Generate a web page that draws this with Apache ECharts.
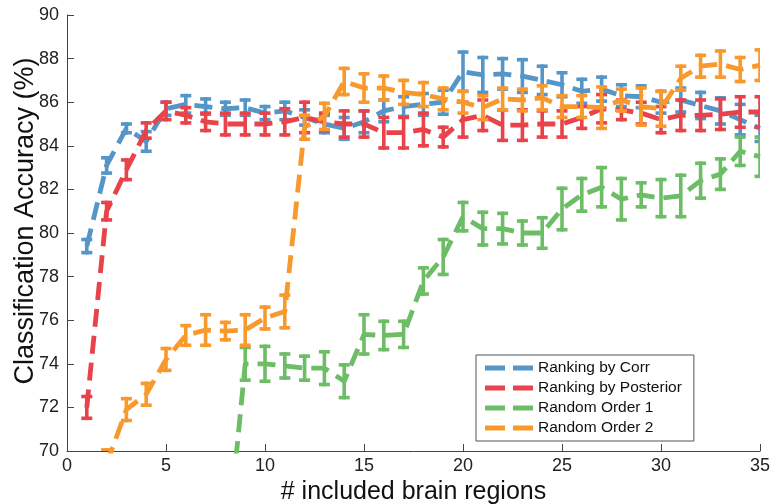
<!DOCTYPE html>
<html>
<head>
<meta charset="utf-8">
<script src="https://cdn.jsdelivr.net/npm/echarts@6/dist/echarts.min.js"></script>
<style>
html,body{margin:0;padding:0;background:#fff;}
#chart{width:770px;height:504px;}
</style>
</head>
<body>
<div id="chart"></div>
<script>
// ---- data ----
const regions = [1,2,3,4,5,6,7,8,9,10,11,12,13,14,15,16,17,18,19,20,21,22,23,24,25,26,27,28,29,30,31,32,33,34,35];

const corrMean = [79.4, 83.1, 84.8, 84.2, 85.7, 85.9, 85.8, 85.7, 85.75, 85.5, 85.6, 85.3, 85.0, 84.8, 85.1, 85.6, 85.8, 85.9, 86.0, 87.4, 87.25, 87.3, 87.2, 87.0, 86.8, 86.5, 86.6, 86.3, 86.25, 86.0, 86.1, 85.85, 85.6, 85.2, 84.8];
const corrErr  = [0.3, 0.35, 0.2, 0.45, 0.3, 0.4, 0.35, 0.3, 0.35, 0.3, 0.4, 0.35, 0.4, 0.5, 0.5, 0.5, 0.45, 0.5, 0.55, 0.9, 0.8, 0.7, 0.75, 0.65, 0.55, 0.55, 0.55, 0.5, 0.5, 0.5, 0.55, 0.6, 0.6, 0.7, 0.6];

const postMean = [72.0, 81.0, 82.9, 84.7, 85.6, 85.4, 85.1, 85.0, 85.0, 85.0, 85.1, 85.3, 85.1, 85.0, 85.0, 84.6, 84.6, 84.75, 84.4, 85.2, 85.4, 84.95, 84.95, 85.0, 85.0, 85.3, 85.7, 85.65, 85.5, 85.2, 85.4, 85.4, 85.45, 85.55, 85.55];
const postErr  = [0.5, 0.4, 0.45, 0.35, 0.4, 0.35, 0.4, 0.5, 0.5, 0.5, 0.6, 0.7, 0.4, 0.6, 0.6, 0.7, 0.7, 0.75, 0.45, 0.8, 0.7, 0.7, 0.7, 0.6, 0.6, 0.5, 0.65, 0.45, 0.5, 0.6, 0.7, 0.7, 0.7, 0.7, 0.7];

const rand1Mean = [null, null, null, null, null, null, null, 64.7, 74.0, 74.0, 73.9, 73.8, 73.8, 73.2, 75.35, 75.3, 75.35, 77.8, 78.9, 80.75, 80.2, 80.2, 80.0, 80.0, 81.1, 81.75, 82.1, 81.55, 81.75, 81.6, 81.7, 82.4, 82.7, 83.75, 83.5];
const rand1Err  = [null, null, null, null, null, null, null, 0.8, 0.75, 0.8, 0.55, 0.55, 0.75, 0.75, 0.9, 0.65, 0.6, 0.6, 0.8, 0.65, 0.75, 0.7, 0.55, 0.7, 0.95, 0.75, 0.9, 0.95, 0.55, 0.85, 0.95, 0.8, 0.7, 0.65, 0.9];

const rand2Mean = [null, 69.4, 71.9, 72.6, 74.2, 75.3, 75.55, 75.5, 75.55, 76.1, 76.4, 84.85, 85.35, 86.95, 86.65, 86.65, 86.45, 86.35, 86.15, 86.0, 85.75, 86.15, 86.1, 86.2, 85.8, 85.8, 85.75, 86.1, 85.8, 85.7, 87.1, 87.65, 87.75, 87.5, 87.7];
const rand2Err  = [null, 0.65, 0.5, 0.5, 0.5, 0.45, 0.7, 0.4, 0.7, 0.5, 0.75, 0.55, 0.6, 0.6, 0.65, 0.55, 0.55, 0.55, 0.5, 0.5, 0.55, 0.5, 0.5, 0.55, 0.5, 0.5, 0.95, 0.5, 0.85, 0.8, 0.55, 0.5, 0.6, 0.55, 0.7];

const seriesNames = ['Ranking by Corr', 'Ranking by Posterior', 'Random Order 1', 'Random Order 2'];
const colors = ['#5596c8', '#e8434a', '#6cbd65', '#f8992e'];
const xTicks = [0, 5, 10, 15, 20, 25, 30, 35];
const yTicks = [70, 72, 74, 76, 78, 80, 82, 84, 86, 88, 90];
const xTitle = '# included brain regions';
const yTitle = 'Classification Accuracy (%)';

// ---- build ----
const FONT = 'Liberation Sans, Arial, sans-serif';
const means = [corrMean, postMean, rand1Mean, rand2Mean];
const errs = [corrErr, postErr, rand1Err, rand2Err];

function errRender(color) {
  return function (params, api) {
    const x = api.value(0), m = api.value(1), e = api.value(2);
    const top = api.coord([x, m + e]);
    const bot = api.coord([x, m - e]);
    const hw = 5.5, lw = 3.6;
    const st = { stroke: color, lineWidth: lw, lineCap: 'butt' };
    return {
      type: 'group',
      children: [
        { type: 'line', shape: { x1: top[0], y1: top[1] - lw / 2, x2: bot[0], y2: bot[1] + lw / 2 }, style: st },
        { type: 'line', shape: { x1: top[0] - hw, y1: top[1], x2: top[0] + hw, y2: top[1] }, style: st },
        { type: 'line', shape: { x1: bot[0] - hw, y1: bot[1], x2: bot[0] + hw, y2: bot[1] }, style: st }
      ]
    };
  };
}

const series = [];
seriesNames.forEach(function (name, i) {
  const lineData = regions.map(function (x, k) { return [x, means[i][k]]; });
  const errData = [];
  regions.forEach(function (x, k) {
    if (means[i][k] != null && errs[i][k] != null) errData.push([x, means[i][k], errs[i][k]]);
  });
  series.push({
    name: name,
    type: 'line',
    data: lineData,
    symbol: 'none',
    connectNulls: false,
    clip: true,
    z: 2 + i * 2,
    color: colors[i],
    itemStyle: { color: colors[i] },
    lineStyle: { color: colors[i], width: 4.8, type: [18, 9], cap: 'butt' },
    animation: false
  });
  series.push({
    name: name + ' err',
    type: 'custom',
    data: errData,
    clip: true,
    z: 3 + i * 2,
    renderItem: errRender(colors[i]),
    encode: { x: 0, y: [1] },
    animation: false
  });
});

const chart = echarts.init(document.getElementById('chart'), null, { renderer: 'canvas' });
chart.setOption({
  animation: false,
  backgroundColor: '#fff',
  grid: { left: 67, right: 10, top: 15, bottom: 53, containLabel: false, outerBoundsMode: 'none' },
  xAxis: {
    type: 'value',
    min: xTicks[0], max: xTicks[xTicks.length - 1], interval: 5,
    name: xTitle,
    nameLocation: 'middle',
    nameGap: 24,
    nameTextStyle: { fontSize: 25, color: '#111', fontFamily: FONT, verticalAlign: 'top' },
    axisLine: { show: true, lineStyle: { color: '#444', width: 1 } },
    axisTick: { show: true, inside: true, length: 7, lineStyle: { color: '#444' } },
    axisLabel: { fontSize: 18, color: '#222', fontFamily: FONT, margin: 6 },
    splitLine: { show: false }
  },
  yAxis: {
    type: 'value',
    min: yTicks[0], max: yTicks[yTicks.length - 1], interval: 2,
    axisLine: { show: true, lineStyle: { color: '#444', width: 1 } },
    axisTick: { show: true, inside: true, length: 7, lineStyle: { color: '#444' } },
    axisLabel: { fontSize: 18, color: '#222', fontFamily: FONT, margin: 8 },
    splitLine: { show: false }
  },
  graphic: [{
    type: 'text',
    x: 26, y: 221,
    rotation: Math.PI / 2,
    style: { text: yTitle, fontSize: 27, fill: '#111', fontFamily: FONT, align: 'center', verticalAlign: 'middle' }
  }],
  legend: {
    data: seriesNames,
    orient: 'vertical',
    left: 476,
    top: 355,
    icon: 'path://M0,0H20V5H0ZM28,0H48V5H28Z',
    itemWidth: 48,
    itemHeight: 5,
    itemGap: 4,
    padding: [5, 12, 5, 9],
    borderColor: '#555',
    borderWidth: 1,
    borderRadius: 0,
    backgroundColor: '#fff',
    textStyle: { fontSize: 15.5, color: '#111', fontFamily: FONT, lineHeight: 14 },
    selectedMode: false
  },
  series: series
});
</script>
</body>
</html>
